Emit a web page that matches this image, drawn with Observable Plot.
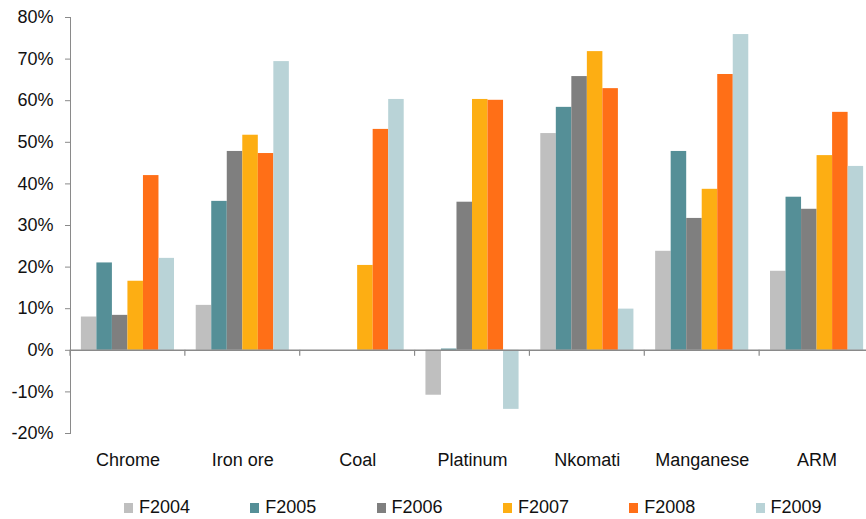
<!DOCTYPE html>
<html><head><meta charset="utf-8">
<script src="https://cdn.jsdelivr.net/npm/d3@7"></script>
<script src="https://cdn.jsdelivr.net/npm/@observablehq/plot@0.6"></script>
<style>
body{margin:0;background:#fff;font-family:"Liberation Sans",Arial,sans-serif;overflow:hidden;}
#chart{position:relative;width:866px;height:480px;overflow:hidden;}
#chart svg text{fill:#111;}
#legend{position:relative;width:866px;height:39px;}
.item{position:absolute;top:17px;height:20px;line-height:20px;font-size:18px;color:#111;white-space:nowrap;}
.sw{display:inline-block;width:9px;height:10px;margin-right:6px;vertical-align:0px;}
</style></head><body>
<div id="chart"></div>
<div id="legend"></div>
<script>
const categories = ["Chrome","Iron ore","Coal","Platinum","Nkomati","Manganese","ARM"];
const series = ["F2004","F2005","F2006","F2007","F2008","F2009"];
const colors = ["#BFBFBF","#558F97","#7F7F7F","#FDAE13","#FF6F17","#B9D3D7"];
const F2004 = [8.0, 10.8, 0, -10.8, 52.1, 23.8, 19.0];
const F2005 = [21.0, 35.8, 0, 0.3, 58.4, 47.8, 36.8];
const F2006 = [8.4, 47.8, 0, 35.6, 65.8, 31.7, 33.9];
const F2007 = [16.6, 51.7, 20.4, 60.3, 71.8, 38.7, 46.8];
const F2008 = [42.0, 47.3, 53.1, 60.1, 62.9, 66.3, 57.2];
const F2009 = [22.1, 69.4, 60.3, -14.2, 9.9, 75.9, 44.2];
const yTicks = [-20, -10, 0, 10, 20, 30, 40, 50, 60, 70, 80];

const valuesBySeries = [F2004, F2005, F2006, F2007, F2008, F2009];
const data = categories.flatMap((c, i) => series.map((s, j) => ({category: c, series: s, value: valuesBySeries[j][i]})));

const plot = Plot.plot({
  width: 866,
  height: 480,
  marginLeft: 70,
  marginRight: 0,
  marginTop: 17,
  marginBottom: 47,
  style: {fontFamily: "'Liberation Sans', Arial, sans-serif", fontSize: "18px", color: "#8a8a8a", background: "#fff", overflow: "visible"},
  fx: {domain: categories, range: [70, 874], paddingInner: 0, paddingOuter: 0, round: false, label: null, axis: "bottom", tickSize: 0, tickPadding: 20},
  x: {domain: series, paddingInner: 0, paddingOuter: 0.7, align: 0.5, round: false, axis: null},
  y: {domain: [-20, 80], ticks: yTicks, tickFormat: d => d + "%", tickSize: 5, tickPadding: 12, line: true, label: null, grid: false},
  color: {domain: series, range: colors},
  marks: [
    Plot.barY(data, {fx: "category", x: "series", y: "value", fill: "series"}),
    Plot.ruleY([0], {stroke: "#8a8a8a", strokeWidth: 1.5})
  ]
});
document.getElementById("chart").appendChild(plot);

// category boundary ticks on the zero line
const fx = plot.scale("fx");
const y = plot.scale("y");
const svg = d3.select(plot);
const bounds = categories.map(c => fx.apply(c)).concat([fx.apply(categories[categories.length - 1]) + fx.bandwidth]);
const y0 = y.apply(0);
svg.append("g").selectAll("line").data(bounds).join("line")
  .attr("x1", d => d).attr("x2", d => d)
  .attr("y1", y0).attr("y2", y0 + 6)
  .attr("stroke", "#8a8a8a").attr("stroke-width", 1.2);

// legend
const legend = d3.select("#legend");
series.forEach((s, i) => {
  const it = legend.append("div").attr("class", "item").style("left", (124 + i * 126.3) + "px");
  it.append("span").attr("class", "sw").style("background", colors[i]);
  it.append("span").text(s);
});
</script>
</body></html>
